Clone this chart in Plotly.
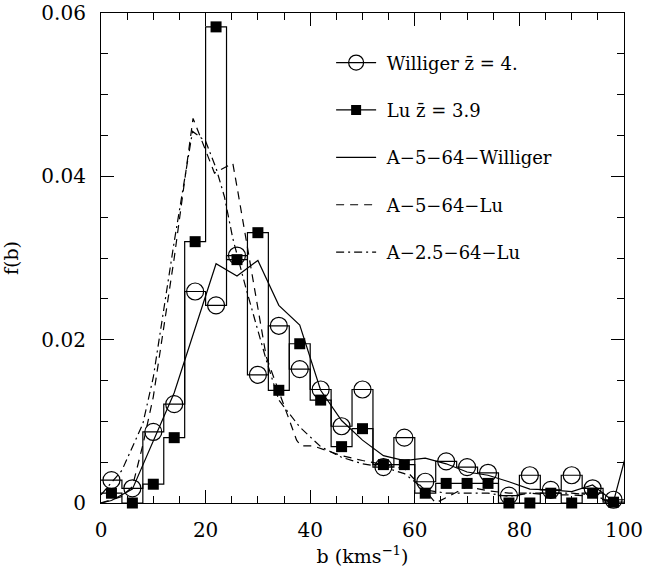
import plotly.graph_objects as go

# ---------------- data ----------------
bin_centers = [2, 6, 10, 14, 18, 22, 26, 30, 34, 38, 42, 46, 50, 54, 58, 62, 66, 70, 74, 78, 82, 86, 90, 94, 98]
bin_width = 4

williger_f = [0.0028, 0.0018, 0.0087, 0.0121, 0.0259, 0.0242, 0.0303, 0.0157, 0.0217, 0.0164,
              0.0139, 0.0094, 0.0139, 0.0044, 0.0080, 0.0026, 0.0051, 0.0044, 0.0037, 0.0009,
              0.0034, 0.0016, 0.0034, 0.0018, 0.0004]
lu_f = [0.0012, 0.0000, 0.0023, 0.0080, 0.0320, 0.0583, 0.0298, 0.0331, 0.0138, 0.0195,
        0.0126, 0.0069, 0.0091, 0.0047, 0.0047, 0.0012, 0.0024, 0.0024, 0.0024, 0.0000,
        0.0000, 0.0012, 0.0000, 0.0012, 0.0001]

model_w_b = [0, 2, 6, 10, 14, 18, 22, 26, 30, 34, 38, 42, 46, 50, 54, 58, 62, 66, 70, 74, 78, 82, 86, 90, 94, 98, 102]
model_w_f = [0.0, 0.0003, 0.0017, 0.0075, 0.0135, 0.0214, 0.0293, 0.0278, 0.0297, 0.0242, 0.0218, 0.0138,
             0.0101, 0.0077, 0.0058, 0.0052, 0.0055, 0.0048, 0.0038, 0.0034, 0.0026, 0.0017, 0.0016,
             0.0014, 0.0022, 0.0002, 0.0098]

model_lu_b = [0, 4, 6, 8, 10, 14, 17.6, 21.7, 25.2, 26.2, 31.6, 37.4, 38.2, 40.5, 46, 50, 54, 58, 62, 64,
              70, 74, 78, 82, 86, 90, 94, 98]
model_lu_f = [0.0, 0.0008, 0.0020, 0.0071, 0.0130, 0.0300, 0.0471, 0.0404, 0.0416, 0.0380, 0.0179, 0.0077,
              0.0070, 0.0070, 0.0058, 0.0052, 0.0047, 0.0042, 0.0015, 0.0000, 0.0020, 0.0015, 0.0012,
              0.0012, 0.0010, 0.0010, 0.0008, 0.0000]

model_lu25_b = [0, 4, 8, 10, 14, 16, 17.5, 20, 22, 23.6, 25.2, 27.8, 31.6, 34, 38, 42, 46, 50, 54, 58,
                62, 66, 70, 74, 78, 82, 86, 90, 94, 98]
model_lu25_f = [0.0010, 0.0040, 0.0097, 0.0154, 0.0320, 0.0396, 0.0455, 0.0443, 0.0410, 0.0375, 0.0324,
                0.0261, 0.0175, 0.0126, 0.0093, 0.0069, 0.0056, 0.0048, 0.0044, 0.0036, 0.0016, 0.0012,
                0.0012, 0.0012, 0.0008, 0.0012, 0.0012, 0.0012, 0.0010, 0.0000]

x_ticks = [0, 20, 40, 60, 80, 100]
y_ticks = [0, 0.02, 0.04, 0.06]
y_tick_labels = ["0", "0.02", "0.04", "0.06"]

legend_names = ["\u00a0Williger z\u0304 = 4.", "\u00a0Lu z\u0304 = 3.9", "\u00a0A\u22125\u221264\u2212Williger",
                "\u00a0A\u22125\u221264\u2212Lu", "\u00a0A\u22122.5\u221264\u2212Lu"]

FONT = "DejaVu Serif"
DASH = "8px,6px"
DASHDOT = "8px,4px,2px,4px"


def step_path(centers, values, width):
    xs, ys = [], []
    for c, v in zip(centers, values):
        xs += [c - width / 2, c + width / 2]
        ys += [v, v]
    return xs, ys


fig = go.Figure()
line_style = dict(color="black", width=1.2)

# histogram outlines
wx, wy = step_path(bin_centers, williger_f, bin_width)
fig.add_trace(go.Scatter(x=wx, y=wy, mode="lines", line=line_style, showlegend=False, hoverinfo="skip"))
lx, ly = step_path(bin_centers, lu_f, bin_width)
fig.add_trace(go.Scatter(x=lx, y=ly, mode="lines", line=line_style, showlegend=False, hoverinfo="skip"))

# model curves
fig.add_trace(go.Scatter(x=model_w_b, y=model_w_f, mode="lines", line=line_style, showlegend=False))
fig.add_trace(go.Scatter(x=model_lu_b, y=model_lu_f, mode="lines",
                         line=dict(color="black", width=1.2, dash=DASH), showlegend=False))
fig.add_trace(go.Scatter(x=model_lu25_b, y=model_lu25_f, mode="lines",
                         line=dict(color="black", width=1.2, dash=DASHDOT), showlegend=False))

# data markers
fig.add_trace(go.Scatter(x=bin_centers, y=williger_f, mode="markers",
                         marker=dict(symbol="circle-open", size=17, color="black", line=dict(width=1.2)),
                         showlegend=False, cliponaxis=False))
fig.add_trace(go.Scatter(x=bin_centers, y=lu_f, mode="markers",
                         marker=dict(symbol="square", size=11, color="black"),
                         showlegend=False, cliponaxis=False))

# legend entries
fig.add_trace(go.Scatter(x=[None], y=[None], mode="lines+markers", name=legend_names[0],
                         line=line_style,
                         marker=dict(symbol="circle-open", size=15, color="black", line=dict(width=1.2)),
                         legendgroup="a"))
fig.add_trace(go.Scatter(x=[None], y=[None], mode="lines+markers", name=legend_names[1],
                         line=line_style, marker=dict(symbol="square", size=10, color="black"),
                         legendgroup="b"))
fig.add_trace(go.Scatter(x=[None], y=[None], mode="lines", name=legend_names[2],
                         line=line_style, legendgroup="c"))
fig.add_trace(go.Scatter(x=[None], y=[None], mode="lines", name=legend_names[3],
                         line=dict(color="black", width=1.2, dash=DASH), legendgroup="d"))
fig.add_trace(go.Scatter(x=[None], y=[None], mode="lines", name=legend_names[4],
                         line=dict(color="black", width=1.2, dash=DASHDOT), legendgroup="e"))

axis_common = dict(
    showline=True, linecolor="black", linewidth=1.2, mirror="ticks",
    ticks="inside", tickcolor="black", tickwidth=1.2,
    showgrid=False, zeroline=False, automargin=False,
    tickfont=dict(family=FONT, size=20, color="black"),
)

fig.update_xaxes(range=[0, 100], tickvals=x_ticks, ticklen=13, ticklabelstandoff=9,
                 minor=dict(dtick=5, tick0=0, ticks="inside", ticklen=7, tickcolor="black", tickwidth=1.2),
                 title=dict(text="b (kms<sup>\u22121</sup>)", font=dict(family=FONT, size=19, color="black"),
                            standoff=8),
                 **axis_common)
fig.update_yaxes(range=[0, 0.06], tickvals=y_ticks, ticktext=y_tick_labels, ticklen=13, ticklabelstandoff=10,
                 minor=dict(dtick=0.005, tick0=0, ticks="inside", ticklen=7, tickcolor="black", tickwidth=1.2),
                 title=dict(text="f(b)", font=dict(family=FONT, size=19, color="black"), standoff=18),
                 **axis_common)

fig.update_layout(
    width=645, height=569,
    margin=dict(l=101, r=21, t=13, b=66),
    paper_bgcolor="white", plot_bgcolor="white",
    legend=dict(x=0.44, y=0.936, xanchor="left", yanchor="top",
                font=dict(family=FONT, size=18, color="black"),
                bgcolor="rgba(0,0,0,0)", tracegroupgap=21, itemwidth=40),
    showlegend=True,
)

fig.write_html("out.html")
